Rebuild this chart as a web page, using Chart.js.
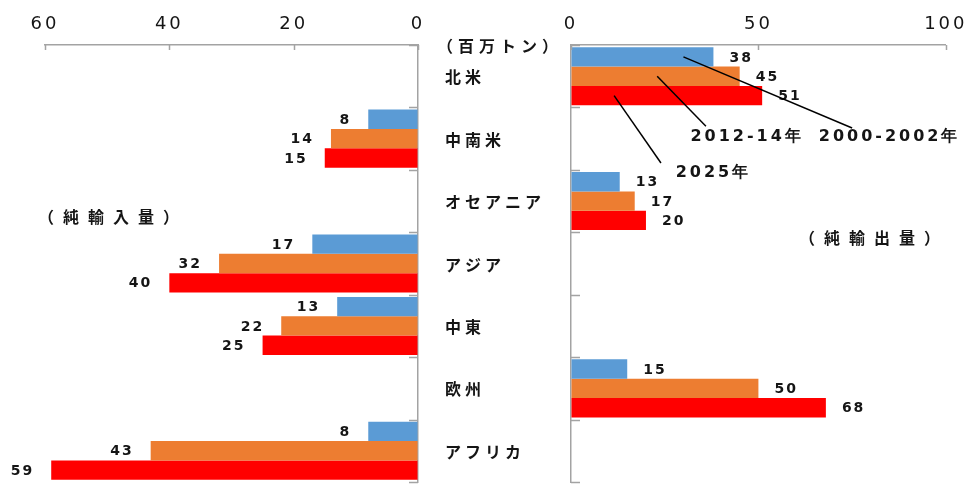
<!DOCTYPE html>
<html lang="ja">
<head>
<meta charset="UTF-8">
<title>純輸入量・純輸出量</title>
<script src="https://cdn.jsdelivr.net/npm/chart.js"></script>
<style>
  html, body { margin: 0; padding: 0; background: #fff; }
  #wrap { position: relative; width: 973px; height: 484px; }
  #wrap canvas { position: absolute; left: 0; top: 0; }
</style>
</head>
<body>
<div id="wrap">
  <canvas id="importChart" width="973" height="484"></canvas>
  <canvas id="exportChart" width="973" height="484"></canvas>
</div>
<script>
// 地域（上から順）
const regions = ['北米', '中南米', 'オセアニア', 'アジア', '中東', '欧州', 'アフリカ'];
const seriesNames = ['2000-2002年', '2012-14年', '2025年'];
const seriesColors = ['#5B9BD5', '#ED7D31', '#FF0000'];

// 純輸入量（百万トン）
const import2000 = [null, 8, null, 17, 13, null, 8];
const import2012 = [null, 14, null, 32, 22, null, 43];
const import2025 = [null, 15, null, 40, 25, null, 59];

// 純輸出量（百万トン）
const export2000 = [38, null, 13, null, null, 15, null];
const export2012 = [45, null, 17, null, null, 50, null];
const export2025 = [51, null, 20, null, null, 68, null];

const importTicks = [0, 20, 40, 60];
const exportTicks = [0, 50, 100];

const AXIS_GRAY = '#a3a3a3';
const TEXT = '#151515';
const NUM_FONT = '"DejaVu Sans", sans-serif';
const JP_FONT = '"Noto Sans CJK JP", sans-serif';

function makeDatasets(lists) {
  return lists.map((d, i) => ({
    label: seriesNames[i],
    data: d,
    backgroundColor: seriesColors[i],
    borderWidth: 0,
    categoryPercentage: 0.93,
    barPercentage: 1.0
  }));
}

// 軸の内側に付く短い目盛り線
function drawInnerTicks(chart, side) {
  const {ctx, chartArea, scales: {x, y}} = chart;
  ctx.save();
  ctx.strokeStyle = AXIS_GRAY;
  ctx.lineWidth = 1.5;
  ctx.beginPath();
  for (let i = 0; i <= regions.length; i++) {
    const py = Math.round(y.getPixelForValue(i - 0.5)) + 0.5;
    const ax = side === 'left' ? chartArea.right : chartArea.left;
    const dx = side === 'left' ? -9 : 9;
    ctx.moveTo(ax, py);
    ctx.lineTo(ax + dx, py);
  }
  x.ticks.forEach(t => {
    const px = Math.round(x.getPixelForValue(t.value)) + 0.5;
    ctx.moveTo(px, chartArea.top);
    ctx.lineTo(px, chartArea.top + 5);
  });
  ctx.stroke();
  ctx.restore();
}

// 棒の先に値を表示
function drawValueLabels(chart, side) {
  const ctx = chart.ctx;
  ctx.save();
  ctx.font = 'bold 14px ' + NUM_FONT;
  ctx.letterSpacing = '2px';
  ctx.fillStyle = TEXT;
  ctx.textBaseline = 'middle';
  chart.data.datasets.forEach((ds, di) => {
    chart.getDatasetMeta(di).data.forEach((bar, i) => {
      const v = ds.data[i];
      if (v === null || v === undefined) return;
      if (side === 'left') {
        ctx.textAlign = 'right';
        ctx.fillText(String(v), bar.x - 17, bar.y + 1);
      } else {
        ctx.textAlign = 'left';
        ctx.fillText(String(v), bar.x + 16, bar.y + 1);
      }
    });
  });
  ctx.restore();
}

function text(ctx, str, x, y, font, spacing, align) {
  ctx.save();
  ctx.font = font;
  ctx.letterSpacing = spacing + 'px';
  ctx.fillStyle = TEXT;
  ctx.textAlign = align || 'left';
  ctx.textBaseline = 'middle';
  ctx.fillText(str, x, y);
  ctx.restore();
}

const tickSpacing = {
  id: 'tickSpacing',
  beforeDraw(chart) { chart.ctx.letterSpacing = '3px'; },
  afterDraw(chart) { chart.ctx.letterSpacing = '0px'; }
};

// 左：純輸入量（軸は右向きに0）
const importChart = new Chart(document.getElementById('importChart'), {
  type: 'bar',
  data: {
    labels: regions,
    datasets: makeDatasets([import2000, import2012, import2025])
  },
  options: {
    indexAxis: 'y',
    responsive: false,
    animation: false,
    events: [],
    layout: { padding: { left: 45, right: 0, top: 0, bottom: 2 } },
    plugins: { legend: { display: false }, tooltip: { enabled: false } },
    scales: {
      x: {
        position: 'top',
        reverse: true,
        min: 0,
        max: 60,
        afterBuildTicks: s => { s.ticks = importTicks.map(v => ({value: v})); },
        afterFit: s => { s.height = 45; },
        ticks: { color: TEXT, font: { family: NUM_FONT, size: 18 }, padding: 10, maxRotation: 0 },
        grid: { drawOnChartArea: false, drawTicks: false },
        border: { color: AXIS_GRAY, width: 1.5 }
      },
      y: {
        position: 'right',
        offset: true,
        afterFit: s => { s.width = 973 - 418; },
        ticks: { display: false },
        grid: { display: false, offset: true },
        border: { display: true, color: AXIS_GRAY, width: 1.5 }
      }
    }
  },
  plugins: [tickSpacing, {
    id: 'importDecor',
    afterDraw(chart) {
      const {ctx, scales: {y}} = chart;
      drawInnerTicks(chart, 'left');
      drawValueLabels(chart, 'left');
      // 地域名
      regions.forEach((r, i) => {
        text(ctx, r, 445, y.getPixelForValue(i) + 1, 'bold 16px ' + JP_FONT, 4, 'left');
      });
      text(ctx, '（百万トン）', 437, 46, 'bold 16px ' + JP_FONT, 5, 'left');
      text(ctx, '（純輸入量）', 38, 217, 'bold 16px ' + JP_FONT, 9, 'left');
    }
  }]
});

// 凡例代わりの引き出し線（x: 値, y: 地域の位置）
const callouts = [
  { series: 0, at: 30,   endX: 75, endY: 0.83, textX: 85, textY: 0.97 },
  { series: 1, at: 23,   endX: 36, endY: 0.80, textX: 47, textY: 0.97 },
  { series: 2, at: 11.5, endX: 24, endY: 1.39, textX: 38, textY: 1.55 }
];

// 右：純輸出量
const exportChart = new Chart(document.getElementById('exportChart'), {
  type: 'bar',
  data: {
    labels: regions,
    datasets: makeDatasets([export2000, export2012, export2025])
  },
  options: {
    indexAxis: 'y',
    responsive: false,
    animation: false,
    events: [],
    layout: { padding: { left: 571, right: 20, top: 0, bottom: 2 } },
    plugins: { legend: { display: false }, tooltip: { enabled: false } },
    scales: {
      x: {
        position: 'top',
        min: 0,
        max: 100,
        afterBuildTicks: s => { s.ticks = exportTicks.map(v => ({value: v})); },
        afterFit: s => { s.height = 45; },
        ticks: { color: TEXT, font: { family: NUM_FONT, size: 18 }, padding: 10, maxRotation: 0 },
        grid: { drawOnChartArea: false, drawTicks: false },
        border: { color: AXIS_GRAY, width: 1.5 }
      },
      y: {
        position: 'left',
        offset: true,
        afterFit: s => { s.width = 0; },
        ticks: { display: false },
        grid: { display: false, offset: true },
        border: { display: true, color: AXIS_GRAY, width: 1.5 }
      }
    }
  },
  plugins: [tickSpacing, {
    id: 'exportDecor',
    afterDraw(chart) {
      const {ctx, scales: {x, y}} = chart;
      drawInnerTicks(chart, 'right');
      drawValueLabels(chart, 'right');
      callouts.forEach(c => {
        const bar = chart.getDatasetMeta(c.series).data[0];
        ctx.save();
        ctx.strokeStyle = '#000';
        ctx.lineWidth = 1.5;
        ctx.beginPath();
        ctx.moveTo(x.getPixelForValue(c.at), bar.y);
        ctx.lineTo(x.getPixelForValue(c.endX), y.getPixelForValue(c.endY));
        ctx.stroke();
        ctx.restore();
        text(ctx, seriesNames[c.series], x.getPixelForValue(c.textX), y.getPixelForValue(c.textY),
             'bold 16px ' + NUM_FONT, 3, 'center');
      });
      text(ctx, '（純輸出量）', 799, 238, 'bold 16px ' + JP_FONT, 9, 'left');
    }
  }]
});
</script>
</body>
</html>
